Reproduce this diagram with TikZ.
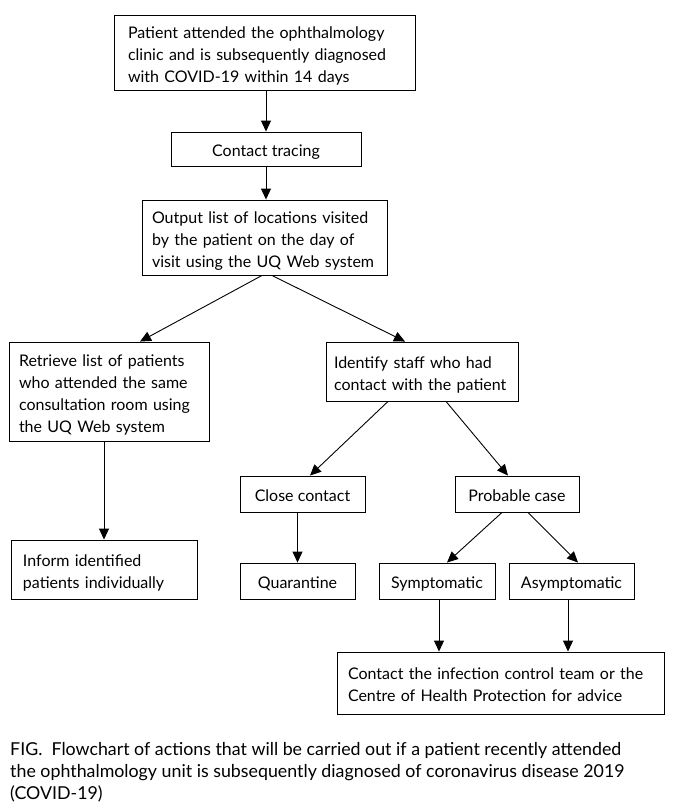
\documentclass[tikz,border=0pt]{standalone}
\usepackage{fontspec}
\setmainfont{Lato}
\usetikzlibrary{arrows.meta,calc}
\newcommand{\lines}[1]{\raisebox{-3.5pt}[\height][\depth]{\begin{tabular}{@{}l@{}}#1\end{tabular}}}
\begin{document}
\begin{tikzpicture}[x=1pt,y=-1pt,
  every node/.style={font=\fontsize{16}{22}\selectfont},
  box/.style={draw=black, line width=0.9pt, rectangle, inner ysep=0pt, anchor=center},
  lbox/.style={box, align=left},
  cbox/.style={box, align=center, inner xsep=0pt},
  arr/.style={line width=0.9pt, -{Triangle[length=11pt,width=10pt]}},
  captext/.style={font=\fontsize{17.8}{22.3}\selectfont, align=left, anchor=north west, inner sep=0pt}]
\useasboundingbox[fill=white] (0,0) rectangle (672,808);

\node[lbox, minimum width=301, minimum height=75, text width=273, inner xsep=14] (b1) at (264.5,52.5)
  {\lines{Patient attended the ophthalmology\\clinic and is subsequently diagnosed\\with COVID-19 within 14 days}};
\node[cbox, minimum width=190, minimum height=34] (trace) at (266,149) {\lines{Contact tracing}};
\node[lbox, minimum width=245, minimum height=75, text width=225, inner xsep=10] (out) at (264.5,237.5)
  {\lines{Output list of locations visited\\by the patient on the day of\\visit using the UQ Web system}};
\node[lbox, minimum width=200, minimum height=99, text width=180, inner xsep=10] (ret) at (109,391.5)
  {\lines{Retrieve list of patients\\who attended the same\\consultation room using\\the UQ Web system}};
\node[lbox, minimum width=186, minimum height=59, text width=162, inner xsep=12] (inf) at (104,569.5)
  {\lines{Inform identified\\patients individually}};
\node[lbox, minimum width=192, minimum height=59, text width=176, inner xsep=8] (ide) at (422,371.5)
  {\lines{Identify staff who had\\contact with the patient}};
\node[cbox, minimum width=125, minimum height=36] (close) at (302.5,494) {\lines{Close contact}};
\node[cbox, minimum width=124, minimum height=36] (prob) at (517,494) {\lines{Probable case}};
\node[cbox, minimum width=115, minimum height=36] (quar) at (297.5,581) {\lines{Quarantine}};
\node[cbox, minimum width=116, minimum height=36] (symp) at (437,581) {\lines{Symptomatic}};
\node[cbox, minimum width=125, minimum height=36] (asym) at (571.5,581) {\lines{Asymptomatic}};
\node[lbox, minimum width=327, minimum height=62, text width=305, inner xsep=11] (team) at (500.5,683)
  {\lines{Contact the infection control team or the\\Centre of Health Protection for advice}};

\draw[arr] (b1.south -| trace.north) -- (trace.north);
\draw[arr] (trace.south) -- (trace.south |- out.north);
\draw[arr] ([xshift=-2.5]out.south) -- ([xshift=31]ret.north);
\draw[arr] ([xshift=7.5]out.south) -- ([xshift=-17]ide.north);
\draw[arr] (ret.south -| inf.north) -- (inf.north);
\draw[arr] ([xshift=-34]ide.south) -- ([xshift=7.5]close.north);
\draw[arr] ([xshift=24]ide.south) -- ([xshift=-9]prob.north);
\draw[arr] (close.south -| quar.north) -- (quar.north);
\draw[arr] ([xshift=-15]prob.south) -- ([xshift=10]symp.north);
\draw[arr] ([xshift=11]prob.south) -- ([xshift=6.5]asym.north);
\draw[arr] ([xshift=2]symp.south) -- ([xshift=2]symp.south |- team.north);
\draw[arr] ([xshift=-3.5]asym.south) -- ([xshift=-3.5]asym.south |- team.north);

\node[captext] (caption) at (10,742) {FIG.\ \ Flowchart of actions that will be carried out if a patient recently attended\\the ophthalmology unit is subsequently diagnosed of coronavirus disease 2019\\(COVID-19)};
\end{tikzpicture}
\end{document}
